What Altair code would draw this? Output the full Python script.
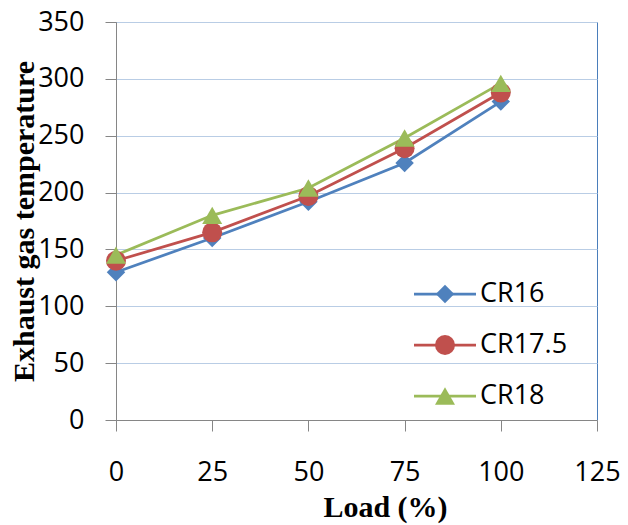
import altair as alt
import pandas as pd

loads = [0, 25, 50, 75, 100]
series_names = ["CR16", "CR17.5", "CR18"]
cr16 = [130, 160, 192, 226, 280]
cr175 = [140, 165, 197, 239, 288]
cr18 = [145, 180, 204, 248, 296]
colors = ["#4f81bd", "#c0504d", "#9bbb59"]
marker_shapes = ["diamond", "circle", "triangle-up"]
marker_sizes = [340, 400, 400]
x_ticks = [0, 25, 50, 75, 100, 125]
y_ticks = [0, 50, 100, 150, 200, 250, 300, 350]

rows = []
for name, vals in zip(series_names, [cr16, cr175, cr18]):
    for l, v in zip(loads, vals):
        rows.append({"load": l, "temp": v, "series": name})
df = pd.DataFrame(rows)
legend_df = pd.DataFrame({"series": series_names})

LABEL_FONT = "Open Sans"
TITLE_FONT = "Liberation Serif"

x_enc = alt.X(
    "load:Q",
    scale=alt.Scale(domain=[0, 125], nice=False),
    axis=alt.Axis(
        values=x_ticks, title="Load (%)", grid=False, labelFlush=False,
        labelOverlap=False, tickSize=11, labelPadding=28,
        titleX=269, titleY=96, titleAlign="center", titleBaseline="alphabetic",
    ),
)
y_enc = alt.Y(
    "temp:Q",
    scale=alt.Scale(domain=[0, 350], nice=False),
    axis=alt.Axis(
        values=y_ticks, title="Exhaust gas temperature", grid=True,
        tickSize=11, labelPadding=21,
        titleX=-83, titleY=199, titleAlign="center", titleBaseline="alphabetic",
        titleAngle=270,
    ),
)
color_enc = alt.Color(
    "series:N", scale=alt.Scale(domain=series_names, range=colors), legend=None
)

base = alt.Chart(df)

lines = base.mark_line(strokeWidth=2.75).encode(x=x_enc, y=y_enc, color=color_enc)

point_layers = []
for name, shp, sz in zip(series_names, marker_shapes, marker_sizes):
    point_layers.append(
        base.transform_filter(alt.datum.series == name)
        .mark_point(filled=True, opacity=1, strokeWidth=0, shape=shp, size=sz)
        .encode(x="load:Q", y="temp:Q", color=color_enc)
    )

main = alt.layer(lines, *point_layers)

# legend (inside plot, lower right)
leg_y = alt.Y(
    "series:N",
    scale=alt.Scale(type="point", domain=series_names, range=[272, 374], padding=0),
    axis=None,
)
lbase = alt.Chart(legend_df)
leg_rule = lbase.mark_rule(strokeWidth=2.75).encode(
    x=alt.value(298), x2=alt.value(360), y=leg_y, color=color_enc
)
leg_pts = []
for name, shp, sz in zip(series_names, marker_shapes, marker_sizes):
    leg_pts.append(
        lbase.transform_filter(alt.datum.series == name)
        .mark_point(filled=True, opacity=1, strokeWidth=0, shape=shp, size=sz)
        .encode(x=alt.value(329), y=leg_y, color=color_enc)
    )
leg_text = lbase.mark_text(
    align="left", baseline="middle", font=LABEL_FONT, fontSize=27, color="#000000"
).encode(x=alt.value(364), y=leg_y, text="series:N")
legend = alt.layer(leg_rule, *leg_pts, leg_text)

chart = (
    alt.layer(main, legend)
    .resolve_scale(y="independent")
    .properties(
        width=481, height=398,
        autosize=alt.AutoSizeParams(type="none"),
        padding={"left": 116, "top": 22, "right": 31, "bottom": 105},
        background="white",
    )
    .configure_view(stroke="#4a7ebb", strokeWidth=1)
    .configure_axis(
        domainColor="#868686", tickColor="#868686", gridColor="#b9cde5",
        gridWidth=1, labelFont=LABEL_FONT, labelFontSize=27, labelColor="#000000",
        titleFont=TITLE_FONT, titleFontSize=30, titleFontWeight="bold",
        titleColor="#000000",
    )
)

chart.save("out.html", embed_options={"renderer": "svg", "actions": False})
